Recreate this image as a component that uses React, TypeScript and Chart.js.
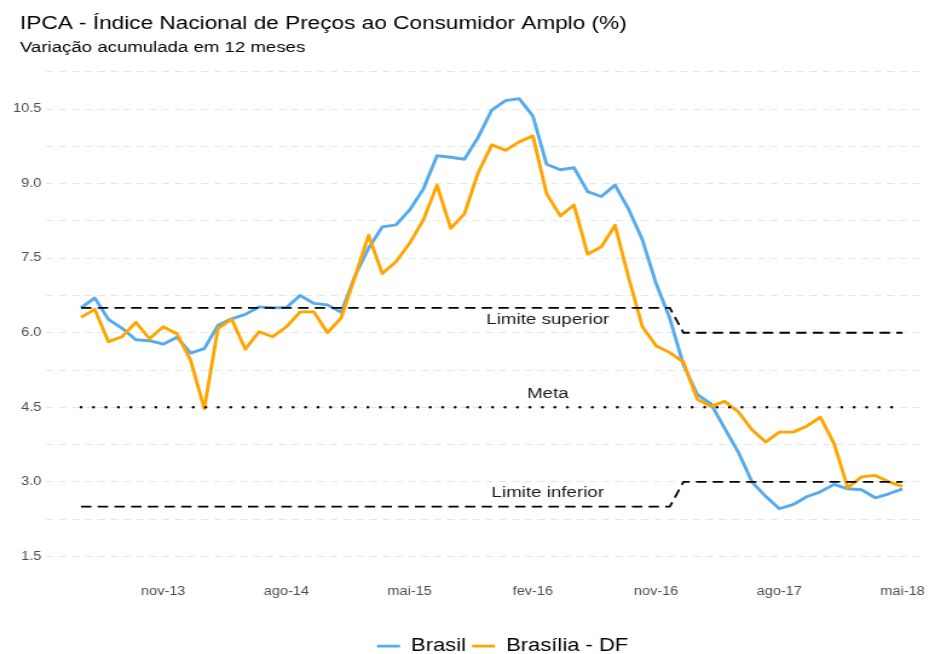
import React, { useEffect, useRef } from 'react';
import { Chart, registerables } from 'chart.js';

Chart.register(...registerables);

// ---------- data ----------
const categories = [
  'mai-13', 'jun-13', 'jul-13', 'ago-13', 'set-13', 'out-13', 'nov-13', 'dez-13',
  'jan-14', 'fev-14', 'mar-14', 'abr-14', 'mai-14', 'jun-14', 'jul-14', 'ago-14', 'set-14', 'out-14', 'nov-14', 'dez-14',
  'jan-15', 'fev-15', 'mar-15', 'abr-15', 'mai-15', 'jun-15', 'jul-15', 'ago-15', 'set-15', 'out-15', 'nov-15', 'dez-15',
  'jan-16', 'fev-16', 'mar-16', 'abr-16', 'mai-16', 'jun-16', 'jul-16', 'ago-16', 'set-16', 'out-16', 'nov-16', 'dez-16',
  'jan-17', 'fev-17', 'mar-17', 'abr-17', 'mai-17', 'jun-17', 'jul-17', 'ago-17', 'set-17', 'out-17', 'nov-17', 'dez-17',
  'jan-18', 'fev-18', 'mar-18', 'abr-18', 'mai-18',
];

const brasil = [
  6.50, 6.70, 6.27, 6.09, 5.86, 5.84, 5.77, 5.91,
  5.59, 5.68, 6.15, 6.28, 6.37, 6.52, 6.50, 6.51, 6.75, 6.59, 6.56, 6.41,
  7.14, 7.70, 8.13, 8.17, 8.47, 8.89, 9.56, 9.53, 9.49, 9.93, 10.48, 10.67,
  10.71, 10.36, 9.39, 9.28, 9.32, 8.84, 8.74, 8.97, 8.48, 7.87, 6.99, 6.29,
  5.35, 4.76, 4.57, 4.08, 3.60, 3.00, 2.71, 2.46, 2.54, 2.70, 2.80, 2.95,
  2.86, 2.84, 2.68, 2.76, 2.86,
];

const brasilia = [
  6.31, 6.47, 5.82, 5.92, 6.21, 5.88, 6.12, 5.98,
  5.45, 4.47, 6.09, 6.27, 5.67, 6.02, 5.92, 6.12, 6.42, 6.42, 6.00, 6.30,
  7.12, 7.96, 7.19, 7.43, 7.80, 8.27, 8.97, 8.10, 8.39, 9.22, 9.78, 9.67,
  9.84, 9.96, 8.80, 8.35, 8.57, 7.58, 7.73, 8.16, 7.10, 6.12, 5.74, 5.60,
  5.41, 4.66, 4.52, 4.62, 4.41, 4.05, 3.80, 4.00, 4.00, 4.12, 4.30, 3.77,
  2.88, 3.10, 3.13, 3.00, 2.91,
];

const seriesNames = ['Brasil', 'Brasília - DF'];

// Reference lines (target band): vertices by month
const upperMonths = ['mai-13', 'dez-16', 'jan-17', 'mai-18'];
const upperValues = [6.5, 6.5, 6.0, 6.0];
const metaMonths = ['mai-13', 'mai-18'];
const metaValues = [4.5, 4.5];
const lowerMonths = ['mai-13', 'dez-16', 'jan-17', 'mai-18'];
const lowerValues = [2.5, 2.5, 3.0, 3.0];

const refLabelText = ['Limite superior', 'Meta', 'Limite inferior'];
const refLabelMonth = ['mar-16', 'mar-16', 'mar-16'];
const refLabelValue = [6.27, 4.77, 2.775];

const xTickLabels = ['nov-13', 'ago-14', 'mai-15', 'fev-16', 'nov-16', 'ago-17', 'mai-18'];
const yGridValues = [1.5, 2.25, 3.0, 3.75, 4.5, 5.25, 6.0, 6.75, 7.5, 8.25, 9.0, 9.75, 10.5, 11.25];
const yTickLabels = ['1.5', '3.0', '4.5', '6.0', '7.5', '9.0', '10.5'];

const titleText = 'IPCA - Índice Nacional de Preços ao Consumidor Amplo (%)';
const subtitleText = 'Variação acumulada em 12 meses';

// ---------- layout / style ----------
const SX = 1.21; // horizontal stretch of the picture
const CW = Math.round(935 / SX);
const CH = 654;
const FONT = "'Liberation Sans', Arial, Helvetica, sans-serif";
const BLUE = '#56ABEE';
const ORANGE = '#FFA500';

export default function App() {
  const ref = useRef<HTMLCanvasElement>(null);

  useEffect(() => {
    const canvas = ref.current;
    if (!canvas) return;
    const idx = (m: string) => categories.indexOf(m);
    const pts = (vals: number[]) => vals.map((v, i) => ({ x: i, y: v }));
    const refPts = (ms: string[], vs: number[]) => ms.map((m, i) => ({ x: idx(m), y: vs[i] }));

    const labelPlugin = {
      id: 'refLabels',
      afterDatasetsDraw(chart: any) {
        const { ctx, scales } = chart;
        ctx.save();
        ctx.font = `15.5px ${FONT}`;
        ctx.fillStyle = '#1a1a1a';
        ctx.textAlign = 'center';
        ctx.textBaseline = 'middle';
        refLabelText.forEach((t, i) => {
          ctx.fillText(t, scales.x.getPixelForValue(idx(refLabelMonth[i])) + 1, scales.y.getPixelForValue(refLabelValue[i]));
        });
        ctx.restore();
      },
    };

    // nudge header texts and legend horizontally after layout
    const shiftBoxes = {
      id: 'shiftBoxes',
      afterLayout(chart: any) {
        const lg = chart.legend;
        if (lg) {
          lg.left += 25.5;
          lg.right += 25.5;
        }
        chart.boxes.forEach((b: any) => {
          const t = b && b.options && b.options.text;
          if (t === titleText || t === subtitleText) {
            b.left += 9.35;
            b.right += 9.35;
          }
        });
      },
    };

    const chart = new Chart(canvas, {
      type: 'line',
      data: {
        datasets: [
          {
            label: seriesNames[0],
            data: pts(brasil),
            borderColor: BLUE,
            backgroundColor: BLUE,
            borderWidth: 2.9,
            pointRadius: 0,
            borderJoinStyle: 'round',
            order: 2,
          },
          {
            label: seriesNames[1],
            data: pts(brasilia),
            borderColor: ORANGE,
            backgroundColor: ORANGE,
            borderWidth: 2.9,
            pointRadius: 0,
            borderJoinStyle: 'round',
            order: 1,
          },
          {
            label: 'upper',
            data: refPts(upperMonths, upperValues),
            borderColor: '#000',
            borderWidth: 1.8,
            borderDash: [8.6, 5.2],
            pointRadius: 0,
            order: 0,
          },
          {
            label: 'meta',
            data: refPts(metaMonths, metaValues),
            borderColor: '#000',
            borderWidth: 2.5,
            borderDash: [0.01, 10.3],
            borderCapStyle: 'round',
            pointRadius: 0,
            order: 0,
          },
          {
            label: 'lower',
            data: refPts(lowerMonths, lowerValues),
            borderColor: '#000',
            borderWidth: 1.8,
            borderDash: [8.6, 5.2],
            pointRadius: 0,
            order: 0,
          },
        ],
      },
      options: {
        animation: false,
        responsive: false,
        events: [],
        layout: { padding: { top: 0, left: 7.15, right: 0, bottom: -11.25 } },
        font: { family: FONT },
        scales: {
          x: {
            type: 'linear',
            min: -2.57,
            max: 61.28,
            grid: { display: false, drawTicks: false, tickLength: 0 },
            border: { display: false },
            afterBuildTicks: (s: any) => {
              s.ticks = xTickLabels.map((m) => ({ value: idx(m) }));
            },
            afterFit: (s: any) => {
              s.height = 55.75;
            },
            ticks: {
              autoSkip: false,
              maxRotation: 0,
              padding: 8.5,
              color: '#4d4d4d',
              font: { family: FONT, size: 12 },
              callback: (v: any) => categories[v as number] ?? '',
            },
          },
          y: {
            type: 'linear',
            min: 1.1,
            max: 11.4,
            grid: { color: '#e6e6e6', lineWidth: 1, drawTicks: false, tickLength: 0 },
            border: { display: false, dash: [5.8, 4.9] },
            afterBuildTicks: (s: any) => {
              s.ticks = yGridValues.map((v) => ({ value: v }));
            },
            ticks: {
              autoSkip: false,
              padding: 3.7,
              color: '#4d4d4d',
              font: { family: FONT, size: 12 },
              callback: (v: any) => {
                const s = Number(v).toFixed(1);
                return yTickLabels.includes(s) ? s : '';
              },
            },
          },
        },
        plugins: {
          title: {
            display: true,
            text: titleText,
            align: 'start',
            color: '#000',
            font: { family: FONT, size: 18.7, weight: 'normal' },
            padding: { top: 13, bottom: 0 },
          },
          subtitle: {
            display: true,
            text: subtitleText,
            align: 'start',
            color: '#000',
            font: { family: FONT, size: 15.4, weight: 'normal' },
            padding: { top: 2.8, bottom: 7.6 },
          },
          legend: {
            display: true,
            position: 'bottom',
            align: 'center',
            labels: {
              color: '#000',
              font: { family: FONT, size: 18.2 },
              boxWidth: 19,
              boxHeight: 2.6,
              padding: 5,
              generateLabels: (ch: any) => {
                const base = Chart.defaults.plugins.legend.labels.generateLabels(ch);
                return base
                  .filter((it: any) => it.datasetIndex < 2)
                  .sort((a: any, b: any) => a.datasetIndex - b.datasetIndex)
                  .map((it: any) => ({ ...it, fillStyle: it.strokeStyle, lineWidth: 0, lineDash: [] }));
              },
            },
          },
          tooltip: { enabled: false },
        },
      },
      plugins: [labelPlugin, shiftBoxes],
    } as any);

    return () => chart.destroy();
  }, []);

  return (
    <div style={{ position: 'fixed', left: 0, top: 0, width: 935, height: 654, background: '#fff' }}>
      <canvas ref={ref} width={CW} height={CH} style={{ width: '935px', height: '654px', display: 'block' }} />
    </div>
  );
}
